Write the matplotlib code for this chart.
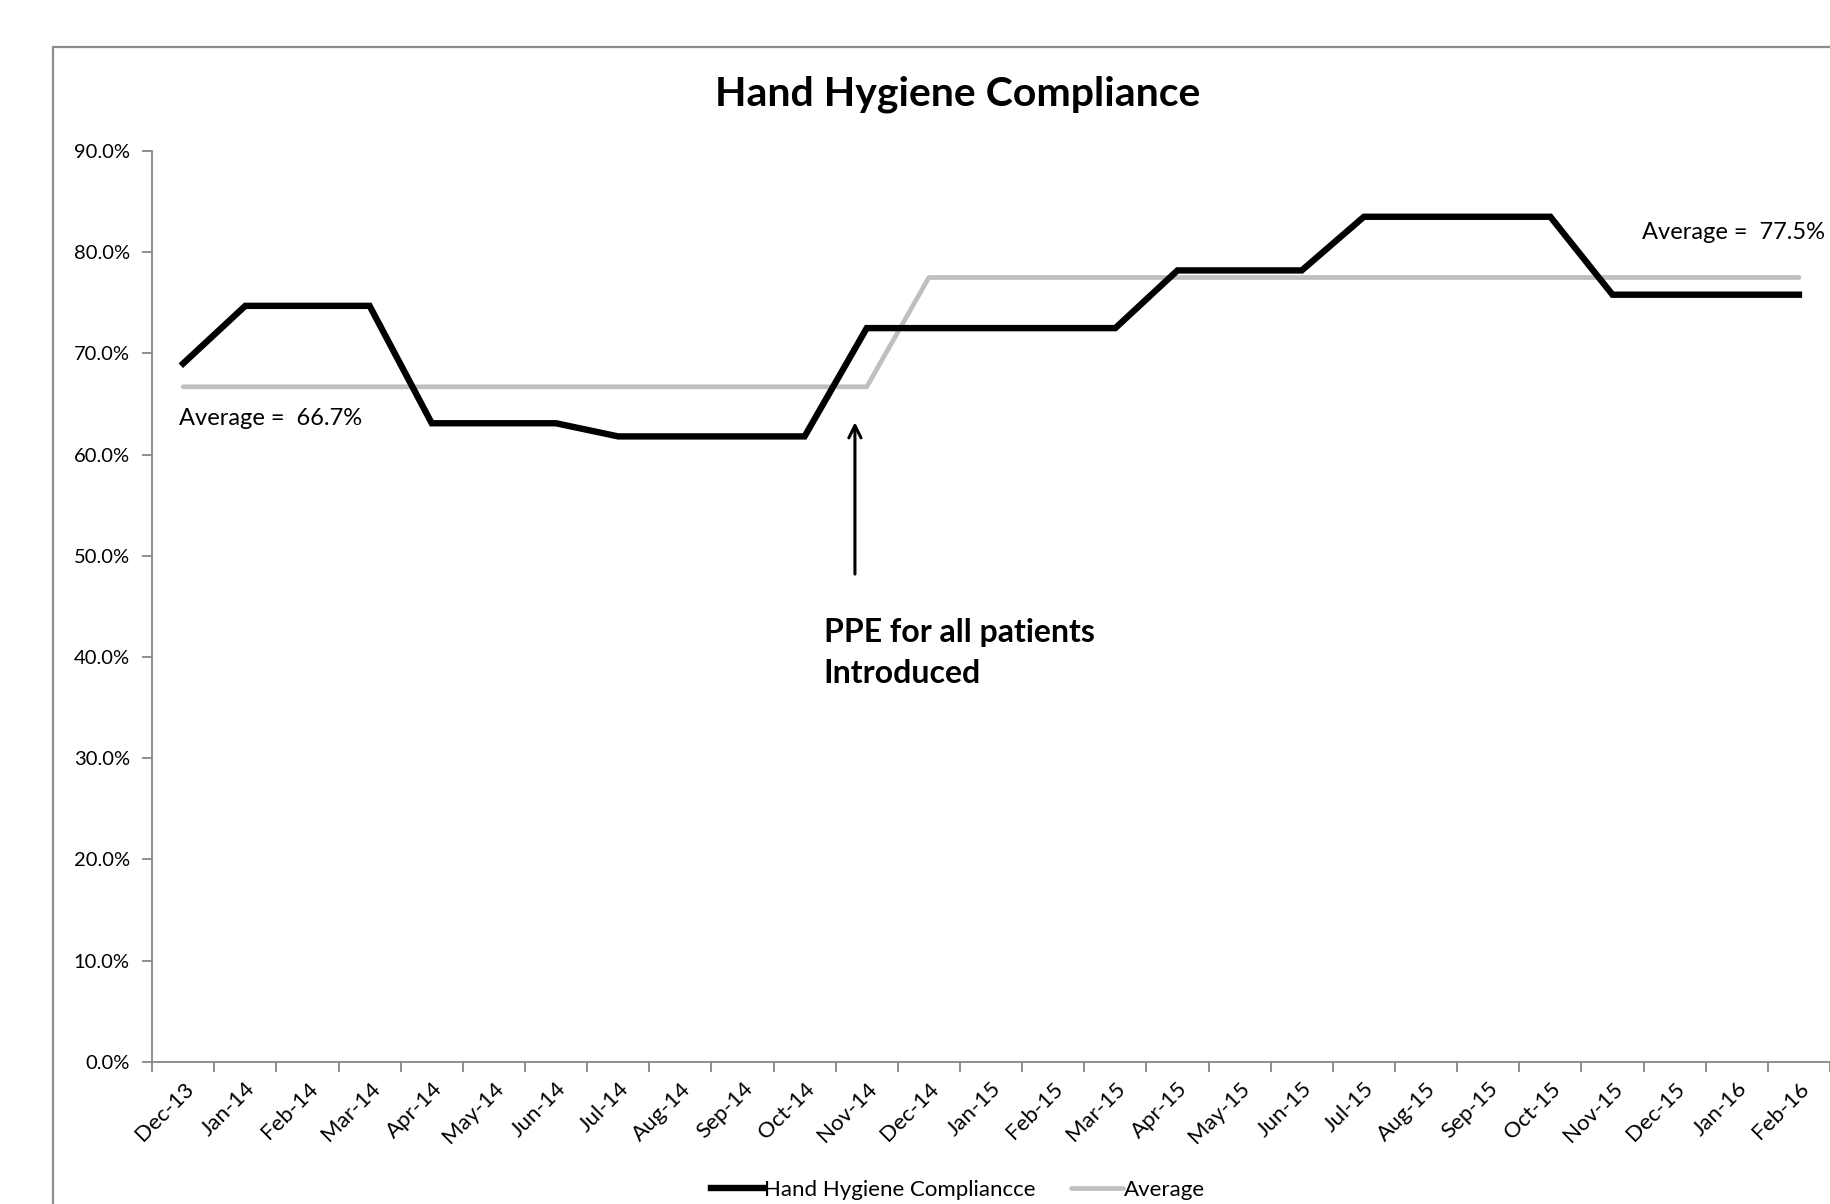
import matplotlib.pyplot as plt
import matplotlib.patches as mpatches
from matplotlib.ticker import FixedLocator, FuncFormatter

plt.rcParams['font.family'] = ['Lato', 'DejaVu Sans']

months = ["Dec-13", "Jan-14", "Feb-14", "Mar-14", "Apr-14", "May-14", "Jun-14",
          "Jul-14", "Aug-14", "Sep-14", "Oct-14", "Nov-14", "Dec-14", "Jan-15",
          "Feb-15", "Mar-15", "Apr-15", "May-15", "Jun-15", "Jul-15", "Aug-15",
          "Sep-15", "Oct-15", "Nov-15", "Dec-15", "Jan-16", "Feb-16"]

compliance = [69.0, 74.7, 74.7, 74.7, 63.1, 63.1, 63.1, 61.8, 61.8, 61.8, 61.8,
              72.5, 72.5, 72.5, 72.5, 72.5, 78.2, 78.2, 78.2, 83.5, 83.5, 83.5,
              83.5, 75.8, 75.8, 75.8, 75.8]

avg_before = 66.7
avg_after = 77.5
n_before = 12
average = [avg_before] * n_before + [avg_after] * (len(months) - n_before)

axis_grey = "#868686"

fig = plt.figure(figsize=(18.3, 12.04), dpi=100)
ax = fig.add_axes([0.0831, 0.118, 0.9169, 0.7566])

# outer chart frame
frame = mpatches.Rectangle((0.0287, -0.2), 1.2, 0.961 + 0.2, transform=fig.transFigure,
                           fill=False, edgecolor="#8c8c8c", linewidth=1.6, zorder=0)
fig.patches.append(frame)

x = list(range(len(months)))
ax.plot(x, compliance, color="black", linewidth=4.6, solid_joinstyle="miter",
        label="Hand Hygiene Compliancce", zorder=3)
ax.plot(x, average, color="#bfbfbf", linewidth=3.4, solid_capstyle="round",
        label="Average", zorder=2)

ax.set_xlim(-0.5, len(months) - 0.5)
ax.set_ylim(0, 90)

ax.yaxis.set_major_locator(FixedLocator(range(0, 91, 10)))
ax.yaxis.set_major_formatter(FuncFormatter(lambda v, _: f"{v:.1f}%"))

# ticks between categories, labels on category centres
ax.xaxis.set_major_locator(FixedLocator([i - 0.5 for i in range(len(months) + 1)]))
ax.xaxis.set_major_formatter(FuncFormatter(lambda v, _: ""))
ax.xaxis.set_minor_locator(FixedLocator(x))
ax.set_xticklabels(months, minor=True, rotation=45, ha="right", rotation_mode="anchor",
                   fontsize=16)
ax.tick_params(axis="x", which="minor", length=0, pad=12)
ax.tick_params(axis="x", which="major", length=7, width=1.3, color=axis_grey)
ax.tick_params(axis="y", length=7, width=1.3, color=axis_grey, labelsize=14.5, pad=9)

for side in ["top", "right"]:
    ax.spines[side].set_visible(False)
for side in ["left", "bottom"]:
    ax.spines[side].set_color(axis_grey)
    ax.spines[side].set_linewidth(1.3)

fig.text(0.5235, 0.922, "Hand Hygiene Compliance", ha="center", va="center",
         fontsize=29.5, fontweight="bold")

ax.text(-0.07, 63.6, "Average =  66.7%", ha="left", va="center", fontsize=17)
ax.text(23.48, 81.9, "Average =  77.5%", ha="left", va="center", fontsize=17)

ax.annotate("", xy=(10.81, 63.2), xytext=(10.81, 48.2),
            arrowprops=dict(arrowstyle="->", color="black", lw=2.2,
                            mutation_scale=22, shrinkA=0, shrinkB=0))
ax.text(10.31, 40.4, "PPE for all patients\nIntroduced", ha="left", va="center",
        fontsize=23, fontweight="bold", linespacing=1.5)

fig.legend(loc="center", bbox_to_anchor=(0.5235, 0.0116), ncol=2, frameon=False,
           fontsize=16, handlelength=2.35, handletextpad=0.05, columnspacing=1.6)

fig.savefig("out.png", dpi=100)
